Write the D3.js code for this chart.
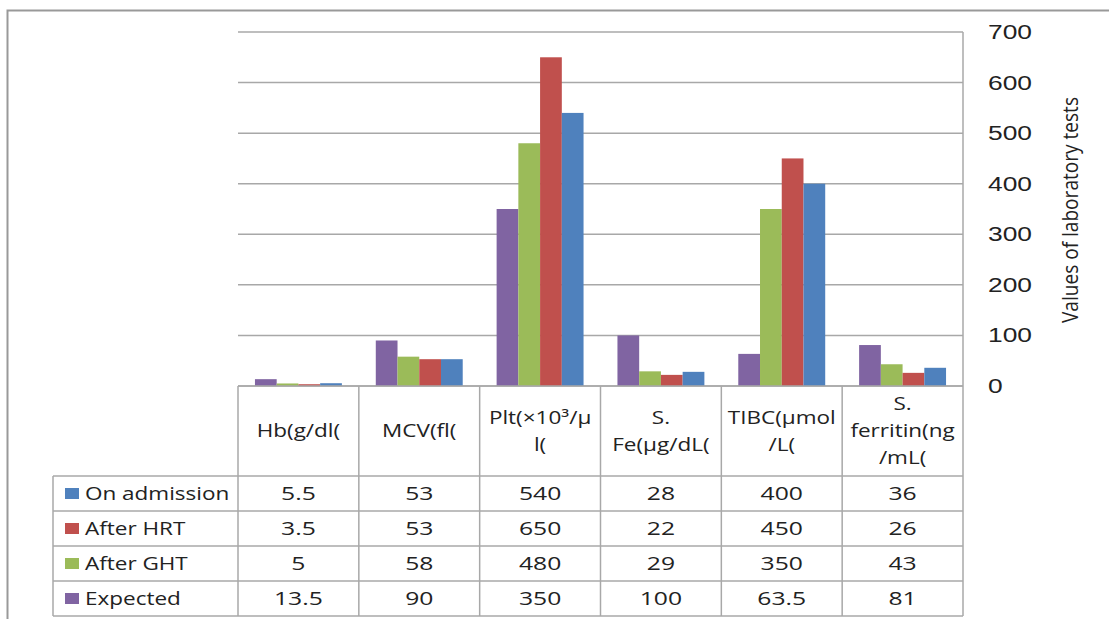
<!DOCTYPE html>
<html>
<head>
<meta charset="utf-8">
<script src="https://cdn.jsdelivr.net/npm/d3@7"></script>
<style>
  html, body { margin: 0; padding: 0; background: #fff; }
  svg { display: block; }
</style>
</head>
<body>
<svg id="chart" width="1109" height="619"></svg>
<script>
// ---- data ----
const categories = ["Hb(g/dl(", "MCV(fl(", "Plt(×10³/μl(", "S. Fe(μg/dL(", "TIBC(μmol/L(", "S. ferritin(ng/mL("];
const categoryLines = [
  ["Hb(g/dl("],
  ["MCV(fl("],
  ["Plt(×10³/μ", "l("],
  ["S.", "Fe(μg/dL("],
  ["TIBC(μmol", "/L("],
  ["S.", "ferritin(ng", "/mL("]
];
const seriesNames = ["On admission", "After HRT", "After GHT", "Expected"];
const seriesColors = ["#4F81BD", "#C0504D", "#9BBB59", "#8064A2"];
const onAdmission = [5.5, 53, 540, 28, 400, 36];
const afterHRT = [3.5, 53, 650, 22, 450, 26];
const afterGHT = [5, 58, 480, 29, 350, 43];
const expected = [13.5, 90, 350, 100, 63.5, 81];
const yTicks = [0, 100, 200, 300, 400, 500, 600, 700];
const yTitle = "Values of laboratory tests";

const seriesValues = [onAdmission, afterHRT, afterGHT, expected];
// bars are drawn in reverse order within each group
const barOrder = [3, 2, 1, 0];

// ---- layout ----
const svg = d3.select("#chart");
const plotLeft = 238, plotRight = 963, plotTop = 32, plotBottom = 386;
const headerBottom = 476, rowH = 35;
const legendLeft = 53;
const sx = 1.25;
const gridColor = "#a8a8a8";
const textColor = "#222";

const x = d3.scaleBand().domain(d3.range(categories.length)).range([plotLeft, plotRight]).paddingInner(0).paddingOuter(0);
const xInner = d3.scaleBand().domain(barOrder).range([0, x.bandwidth()]).paddingInner(0).paddingOuter(0.78);
const y = d3.scaleLinear().domain([0, 700]).range([plotBottom, plotTop]);

// outer frame
svg.append("path")
  .attr("d", "M7.5,619 V10.5 H1109")
  .attr("fill", "none").attr("stroke", "#999").attr("stroke-width", 2);

// gridlines
svg.append("g").selectAll("line").data(yTicks).join("line")
  .attr("x1", plotLeft).attr("x2", plotRight)
  .attr("y1", d => y(d)).attr("y2", d => y(d))
  .attr("stroke", gridColor).attr("stroke-width", 1.5);

// right border of plot + table
svg.append("line")
  .attr("x1", plotRight).attr("x2", plotRight)
  .attr("y1", plotTop).attr("y2", headerBottom + rowH * 4)
  .attr("stroke", gridColor).attr("stroke-width", 1.5);

// bars
const groups = svg.append("g").selectAll("g").data(categories).join("g")
  .attr("transform", (d, i) => `translate(${x(i)},0)`);
groups.selectAll("rect").data((d, i) => barOrder.map(s => ({ s, v: seriesValues[s][i] }))).join("rect")
  .attr("x", d => xInner(d.s))
  .attr("width", xInner.bandwidth())
  .attr("y", d => y(d.v))
  .attr("height", d => y(0) - y(d.v))
  .attr("fill", d => seriesColors[d.s]);

// y tick labels (right side)
const tickG = svg.append("g").selectAll("g").data(yTicks).join("g")
  .attr("transform", d => `translate(988,${y(d)}) scale(1.32,1)`);
tickG.append("text")
  .attr("dy", "0.35em")
  .attr("font-family", "Liberation Sans, Arial, sans-serif")
  .attr("font-size", 20)
  .attr("fill", textColor)
  .text(d => d);

// y title
svg.append("g")
  .attr("transform", "translate(1078,210) scale(1.3,1) rotate(-90)")
  .append("text")
  .attr("text-anchor", "middle")
  .attr("font-family", "Open Sans, sans-serif")
  .attr("font-size", 17)
  .attr("textLength", 226)
  .attr("lengthAdjust", "spacingAndGlyphs")
  .attr("fill", textColor)
  .text(yTitle);

// ---- data table ----
const tableBottom = headerBottom + rowH * 4;
const tbl = svg.append("g").attr("stroke", gridColor).attr("stroke-width", 1.5);
tbl.append("line").attr("x1", plotLeft).attr("x2", plotRight).attr("y1", plotBottom).attr("y2", plotBottom);
tbl.selectAll("line.row").data(d3.range(5)).join("line").attr("class", "row")
  .attr("x1", legendLeft).attr("x2", plotRight)
  .attr("y1", d => headerBottom + d * rowH).attr("y2", d => headerBottom + d * rowH);
tbl.selectAll("line.col").data(d3.range(categories.length)).join("line").attr("class", "col")
  .attr("x1", d => x(d)).attr("x2", d => x(d))
  .attr("y1", plotBottom).attr("y2", tableBottom);
tbl.append("line").attr("x1", legendLeft).attr("x2", legendLeft).attr("y1", headerBottom).attr("y2", tableBottom);

const font = "Open Sans, sans-serif";
const fs = 18;

// header labels
const lineH = 27;
const headerMid = (plotBottom + headerBottom) / 2;
categoryLines.forEach((lines, i) => {
  const cx = x(i) + x.bandwidth() / 2;
  lines.forEach((ln, j) => {
    const cy = headerMid + (j - (lines.length - 1) / 2) * lineH;
    svg.append("g").attr("transform", `translate(${cx},${cy}) scale(${sx},1)`)
      .append("text")
      .attr("text-anchor", "middle").attr("dy", "0.35em")
      .attr("font-family", font).attr("font-size", fs).attr("fill", textColor)
      .text(ln);
  });
});

// rows
seriesNames.forEach((name, r) => {
  const cy = headerBottom + r * rowH + rowH / 2;
  svg.append("rect")
    .attr("x", 65).attr("y", cy - 5.5)
    .attr("width", 14).attr("height", 11)
    .attr("fill", seriesColors[r]);
  svg.append("g").attr("transform", `translate(85,${cy}) scale(${sx},1)`)
    .append("text")
    .attr("dy", "0.35em")
    .attr("font-family", font).attr("font-size", fs).attr("fill", textColor)
    .text(name);
  seriesValues[r].forEach((v, i) => {
    const cx = x(i) + x.bandwidth() / 2;
    svg.append("g").attr("transform", `translate(${cx},${cy}) scale(1.3,1)`)
      .append("text")
      .attr("text-anchor", "middle").attr("dy", "0.35em")
      .attr("font-family", font).attr("font-size", 19).attr("fill", textColor)
      .text(String(v));
  });
});
</script>
</body>
</html>
